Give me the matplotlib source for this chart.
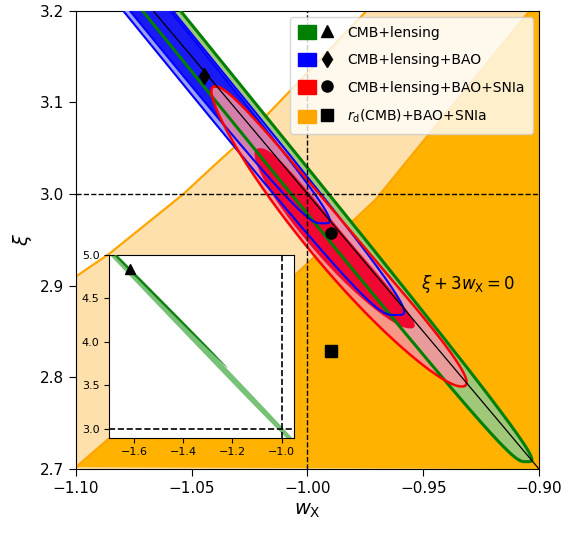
import numpy as np
import matplotlib
matplotlib.use('Agg')
import matplotlib.pyplot as plt
from matplotlib.patches import Patch
from matplotlib.lines import Line2D
from matplotlib.legend_handler import HandlerTuple

# ---------------- data ----------------
w_lim = [-1.10, -0.90]
xi_lim = [2.70, 3.20]
x_ticks = [-1.10, -1.05, -1.00, -0.95, -0.90]
y_ticks = [2.7, 2.8, 2.9, 3.0, 3.1, 3.2]

inset_w_lim = [-1.70, -0.95]
inset_xi_lim = [2.90, 5.00]
inset_x_ticks = [-1.6, -1.4, -1.2, -1.0]
inset_y_ticks = [3.0, 3.5, 4.0, 4.5, 5.0]

# contour end points (w, xi) and horizontal half widths
green2_w = [-0.9053, -1.2491]
green2_xi = [2.708, 3.78]
green2_hw = 0.0082

blue2_w = [-0.9618, -1.198]
blue2_xi = [2.868, 3.60]
blue2_hw = 0.0107

blue1_w = [-0.9932, -1.197]
blue1_xi = [2.968, 3.60]
blue1_hw = 0.0087

red2_w = [-0.9334, -1.0398]
red2_xi = [2.790, 3.1175]
red2_hw = 0.0122

red1_w = [-0.9557, -1.0205]
red1_xi = [2.8534, 3.050]
red1_hw = 0.0092

# inset green contours
green2_in_w = [-0.9053, -1.87]
green2_in_xi = [2.708, 5.55]
green2_in_hw = 0.017
green1_in_w = [-1.22, -1.80]
green1_in_xi = [3.70, 5.35]
green1_in_hw = 0.007

# r_d(CMB)+BAO+SNIa contour boundaries
orange2_w = [-1.10, -1.0855, -1.0536, -1.0378, -1.0263, -0.9744]
orange2_xi = [2.910, 2.935, 3.000, 3.037, 3.063, 3.200]
orange1_w = [-1.10, -1.085, -1.0054, -0.9708, -0.904]
orange1_xi = [2.702, 2.735, 2.9116, 2.9933, 3.200]

# best-fit points
bf_labels = ['CMB+lensing', 'CMB+lensing+BAO', 'CMB+lensing+BAO+SNIa',
             r'$r_{\rm d}$(CMB)+BAO+SNIa']
bf_w = [-1.615, -1.0446, -0.990, -0.990]
bf_xi = [4.83, 3.129, 2.958, 2.829]
bf_markers = ['^', 'd', 'o', 's']
bf_colors = ['#008000', '#0000ff', '#ff0000', '#ffa500']

# degeneracy line  xi + 3 w = 0
line_w = [-1.10, -0.90]
line_coef = -3.0


# ---------------- helpers ----------------
def outline(wt, xt, hw, n=2.0, k=0.0, bow=0.0, npts=720):
    """closed lens-shaped contour between two tips"""
    t = np.linspace(0, 2 * np.pi, npts)
    s = np.sign(np.cos(t)) * np.abs(np.cos(t)) ** (2.0 / n)
    c = np.sign(np.sin(t)) * np.abs(np.sin(t)) ** (2.0 / n)
    cx, ux = (xt[0] + xt[1]) / 2, (xt[1] - xt[0]) / 2
    cw, uw = (wt[0] + wt[1]) / 2, (wt[1] - wt[0]) / 2
    xi = cx + ux * s
    w = cw + uw * s + bow * (1 - s ** 2) + hw * (1 - k * s) * c
    return w, xi


def draw(ax, shape, fill, edge=None, lw=1.5, alpha=1.0, z=2):
    w, xi = shape
    ax.fill(w, xi, color=fill, alpha=alpha, lw=0, zorder=z)
    if edge is not None:
        ax.plot(w, xi, color=edge, lw=lw, zorder=5, solid_joinstyle='round')


fig = plt.figure(figsize=(5.71, 5.37), dpi=100)
ax = fig.add_axes([0.133, 0.1266, 0.811, 0.8535])

# orange contours
o2 = list(zip(orange2_w, orange2_xi)) + [(w_lim[1], xi_lim[1]), (w_lim[1], xi_lim[0]), (w_lim[0], xi_lim[0])]
o1 = list(zip(orange1_w, orange1_xi)) + [(w_lim[1], xi_lim[1]), (w_lim[1], xi_lim[0])]
ax.fill(*zip(*o2), color='#fde0ab', lw=0, zorder=1)
ax.fill(*zip(*o1), color='#ffb200', lw=0, zorder=1.1)
ax.plot(orange2_w, orange2_xi, color='#ffa500', lw=1.6, zorder=1.2)
ax.plot(orange1_w, orange1_xi, color='#ffa500', lw=1.6, zorder=1.2)

draw(ax, outline(green2_w, green2_xi, green2_hw, n=4.0), '#a0c878', '#008000', lw=2.2, z=2)
draw(ax, outline(blue2_w, blue2_xi, blue2_hw, n=4.0), '#9ca0f2', '#0000ff', lw=1.5, z=3)
draw(ax, outline(blue1_w, blue1_xi, blue1_hw, n=4.0), '#1a1af5', '#0000ff', lw=1.5, z=3.1)
draw(ax, outline(red2_w, red2_xi, red2_hw, n=2.2, k=0.15, bow=-0.005),
     '#f7939f', '#ff0000', lw=1.8, alpha=0.85, z=4)
draw(ax, outline(red1_w, red1_xi, red1_hw, n=2.4, k=0.05, bow=-0.004),
     '#f2002c', None, alpha=0.95, z=4.1)

# reference lines
ax.axvline(-1.0, color='k', ls='--', lw=1.0, zorder=6)
ax.axhline(3.0, color='k', ls='--', lw=1.0, zorder=6)
ax.plot(line_w, [line_coef * v for v in line_w], color='k', lw=0.9, zorder=6)

for wv, xv, m in zip(bf_w, bf_xi, bf_markers):
    ax.plot(wv, xv, marker=m, color='k', ms=8, ls='none', zorder=7)

ax.text(-0.951, 2.902, r'$\xi+3w_{\rm X}=0$', fontsize=12, va='center', ha='left', zorder=7)

ax.set_xlim(w_lim)
ax.set_ylim(xi_lim)
ax.set_xticks(x_ticks)
ax.set_yticks(y_ticks)
ax.set_xticklabels([f'{v:.2f}'.replace('-', '\u2212') for v in x_ticks])
ax.set_yticklabels([f'{v:.1f}' for v in y_ticks])
ax.tick_params(labelsize=11, length=5)
ax.set_xlabel(r'$w_{\rm X}$', fontsize=14)
ax.set_ylabel(r'$\xi$', fontsize=14)

handles = []
for c, m in zip(bf_colors, bf_markers):
    handles.append((Patch(facecolor=c, edgecolor=c),
                    Line2D([], [], marker=m, color='k', ls='none', ms=8)))
leg = ax.legend(handles, bf_labels, loc='upper right', fontsize=10,
                handler_map={tuple: HandlerTuple(ndivide=None, pad=0.2)},
                handlelength=2.7, handleheight=1.1, labelspacing=0.95,
                framealpha=0.8, borderaxespad=0.45, borderpad=0.6)
leg.set_zorder(10)

# inset
axi = fig.add_axes([0.1914, 0.185, 0.3235, 0.3408])
draw(axi, outline(green2_in_w, green2_in_xi, green2_in_hw, n=3.0), '#78c278', None, z=2)
draw(axi, outline(green1_in_w, green1_in_xi, green1_in_hw, n=2.0), '#127f12', None, z=3)
axi.axvline(-1.0, color='k', ls='--', lw=1.2, zorder=5)
axi.axhline(3.0, color='k', ls='--', lw=1.2, zorder=5)
axi.plot(bf_w[0], bf_xi[0], marker='^', color='k', ms=7, ls='none', zorder=6)
axi.set_xlim(inset_w_lim)
axi.set_ylim(inset_xi_lim)
axi.set_xticks(inset_x_ticks)
axi.set_yticks(inset_y_ticks)
axi.tick_params(labelsize=8, length=3.5)

fig.savefig('out.png', dpi=100)
